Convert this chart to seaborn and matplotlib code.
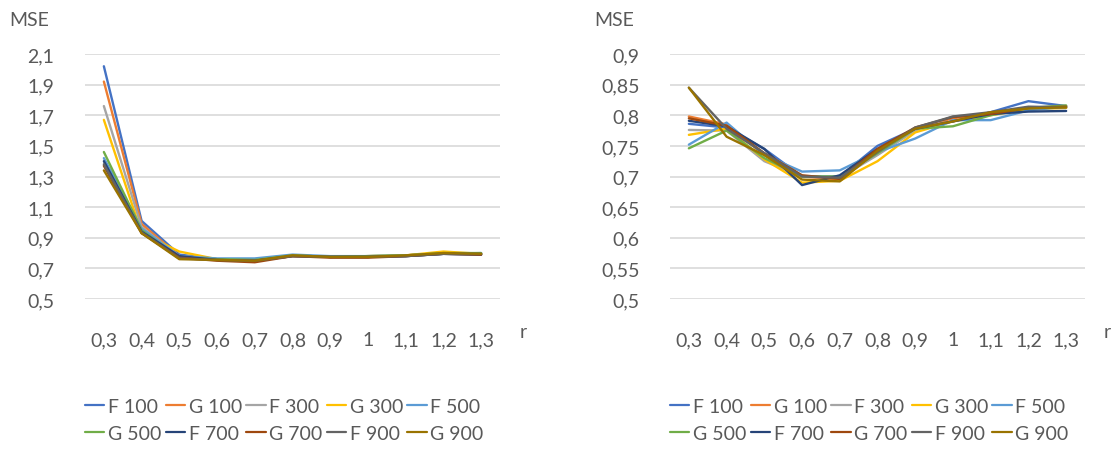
import numpy as np
import pandas as pd
import matplotlib
matplotlib.use("Agg")
import matplotlib.pyplot as plt
import seaborn as sns

r_labels = ["0,3", "0,4", "0,5", "0,6", "0,7", "0,8", "0,9", "1", "1,1", "1,2", "1,3"]
series_names = ["F 100", "G 100", "F 300", "G 300", "F 500",
                "G 500", "F 700", "G 700", "F 900", "G 900"]
series_colors = ["#4472C4", "#ED7D31", "#A5A5A5", "#FFC000", "#5B9BD5",
                 "#70AD47", "#264478", "#9E480E", "#636363", "#997300"]

# left chart
left_f100 = [2.02, 1.01, 0.79, 0.76, 0.76, 0.785, 0.775, 0.775, 0.78, 0.795, 0.79]
left_g100 = [1.92, 0.99, 0.78, 0.76, 0.75, 0.78, 0.775, 0.775, 0.785, 0.80, 0.795]
left_f300 = [1.76, 0.97, 0.78, 0.76, 0.755, 0.785, 0.775, 0.78, 0.785, 0.80, 0.795]
left_g300 = [1.67, 0.93, 0.81, 0.76, 0.755, 0.785, 0.775, 0.78, 0.785, 0.81, 0.795]
left_f500 = [1.42, 0.96, 0.78, 0.765, 0.765, 0.79, 0.78, 0.78, 0.785, 0.795, 0.80]
left_g500 = [1.46, 0.95, 0.77, 0.76, 0.755, 0.785, 0.775, 0.78, 0.785, 0.80, 0.80]
left_f700 = [1.40, 0.94, 0.78, 0.755, 0.75, 0.78, 0.775, 0.775, 0.78, 0.795, 0.79]
left_g700 = [1.37, 0.93, 0.77, 0.75, 0.74, 0.78, 0.77, 0.77, 0.78, 0.795, 0.79]
left_f900 = [1.38, 0.935, 0.765, 0.755, 0.75, 0.78, 0.775, 0.775, 0.78, 0.795, 0.795]
left_g900 = [1.34, 0.93, 0.76, 0.755, 0.75, 0.785, 0.775, 0.775, 0.785, 0.80, 0.795]

# right chart
right_f100 = [0.786, 0.780, 0.745, 0.700, 0.700, 0.750, 0.778, 0.790, 0.805, 0.823, 0.815]
right_g100 = [0.798, 0.785, 0.735, 0.700, 0.695, 0.740, 0.778, 0.795, 0.803, 0.812, 0.815]
right_f300 = [0.776, 0.775, 0.725, 0.700, 0.698, 0.735, 0.775, 0.798, 0.802, 0.812, 0.812]
right_g300 = [0.768, 0.778, 0.728, 0.690, 0.693, 0.725, 0.772, 0.790, 0.800, 0.810, 0.812]
right_f500 = [0.752, 0.788, 0.735, 0.708, 0.710, 0.740, 0.762, 0.792, 0.792, 0.808, 0.814]
right_g500 = [0.746, 0.775, 0.730, 0.700, 0.700, 0.738, 0.778, 0.782, 0.800, 0.812, 0.816]
right_f700 = [0.791, 0.782, 0.745, 0.686, 0.702, 0.745, 0.778, 0.790, 0.802, 0.806, 0.807]
right_g700 = [0.795, 0.783, 0.738, 0.702, 0.696, 0.745, 0.780, 0.797, 0.802, 0.812, 0.814]
right_f900 = [0.845, 0.778, 0.738, 0.700, 0.698, 0.740, 0.780, 0.798, 0.805, 0.814, 0.813]
right_g900 = [0.845, 0.765, 0.735, 0.695, 0.692, 0.742, 0.778, 0.790, 0.805, 0.811, 0.813]

left_series = [left_f100, left_g100, left_f300, left_g300, left_f500,
               left_g500, left_f700, left_g700, left_f900, left_g900]
right_series = [right_f100, right_g100, right_f300, right_g300, right_f500,
                right_g500, right_f700, right_g700, right_f900, right_g900]

left_yticks = [0.5, 0.7, 0.9, 1.1, 1.3, 1.5, 1.7, 1.9, 2.1]
right_yticks = [0.5, 0.55, 0.6, 0.65, 0.7, 0.75, 0.8, 0.85, 0.9]


def to_long(series):
    rows = []
    for name, vals in zip(series_names, series):
        for i, v in enumerate(vals):
            rows.append({"series": name, "r": i, "mse": v})
    return pd.DataFrame(rows)


sns.set_style("white")
plt.rcParams['font.family'] = ['Lato', 'DejaVu Sans']
text_color = "#595959"
fs = 14

fig = plt.figure(figsize=(11.14, 4.52), dpi=100)
W, H = 1114, 452
panels = [
    (85, left_series, left_yticks, 9, 520),
    (670, right_series, right_yticks, 594, 1104),
]

# matplotlib fills legend columns first; reorder so the entries read row by row
leg_order = [0, 5, 1, 6, 2, 7, 3, 8, 4, 9]

for x0, series, yticks, mse_x, r_x in panels:
    ax = fig.add_axes([x0 / W, 1 - 300 / H, 415 / W, 245 / H])
    df = to_long(series)
    sns.lineplot(data=df, x="r", y="mse", hue="series", palette=series_colors,
                 hue_order=series_names, linewidth=1.7, ax=ax, legend=False)
    ax.set_xlim(-0.5, 10.5)
    ax.set_ylim(yticks[0], yticks[-1])
    ax.set_xticks(range(len(r_labels)))
    ax.set_xticklabels(r_labels)
    ax.set_yticks(yticks)
    ax.set_yticklabels([f"{t:g}".replace(".", ",") for t in yticks])
    ax.yaxis.grid(True, color="#D9D9D9", linewidth=1.2)
    ax.set_axisbelow(True)
    for s in ax.spines.values():
        s.set_visible(False)
    ax.tick_params(axis="both", length=0, labelsize=fs, colors=text_color)
    ax.tick_params(axis="x", pad=23)
    ax.tick_params(axis="y", pad=22)
    ax.set_xlabel("")
    ax.set_ylabel("")
    fig.text(mse_x / W, 1 - 20 / H, "MSE", fontsize=fs, color=text_color,
             ha="left", va="center")
    fig.text(r_x / W, 1 - 332 / H, "r", fontsize=fs, color=text_color,
             ha="left", va="center")

    handles = [plt.Line2D([], [], color=series_colors[i], linewidth=1.6) for i in leg_order]
    labels = [series_names[i] for i in leg_order]
    leg = ax.legend(handles, labels, ncol=5, frameon=False,
                    loc="upper left", bbox_to_anchor=(x0 / W, 1 - 399 / H),
                    bbox_transform=fig.transFigure, fontsize=fs,
                    handlelength=1.0, handletextpad=0.2, columnspacing=0.2,
                    labelspacing=0.5, borderpad=0, borderaxespad=0)
    for t in leg.get_texts():
        t.set_color(text_color)

fig.savefig("out.png", dpi=100)
